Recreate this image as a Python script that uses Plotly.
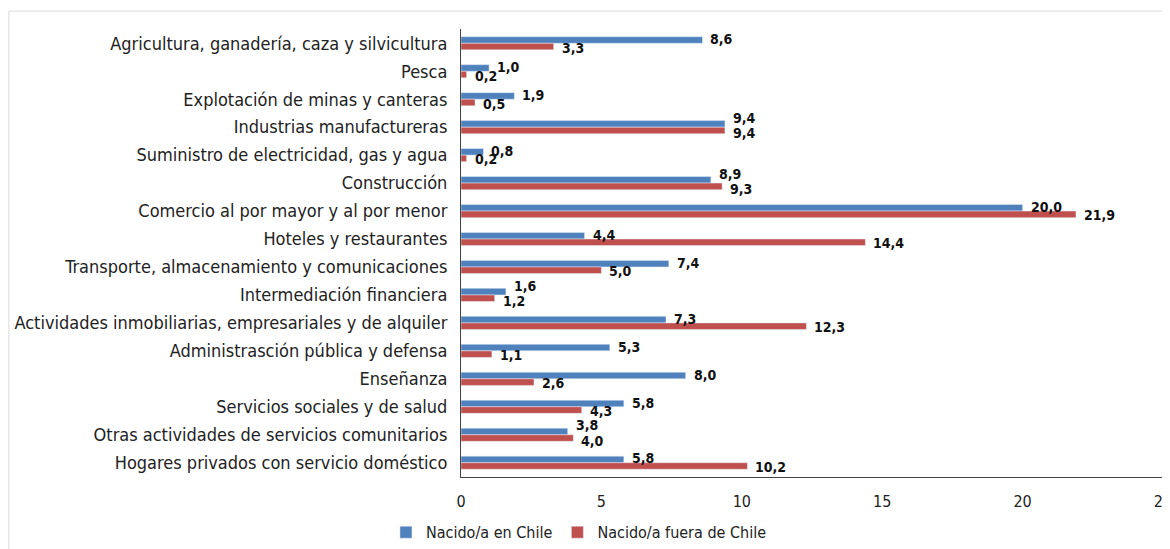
import plotly.graph_objects as go

categories = [
    "Agricultura, ganadería, caza y silvicultura",
    "Pesca",
    "Explotación de minas y canteras",
    "Industrias manufactureras",
    "Suministro de electricidad, gas y agua",
    "Construcción",
    "Comercio al por mayor y al por menor",
    "Hoteles y restaurantes",
    "Transporte, almacenamiento y comunicaciones",
    "Intermediación financiera",
    "Actividades inmobiliarias, empresariales y de alquiler",
    "Administrasción pública y defensa",
    "Enseñanza",
    "Servicios sociales y de salud",
    "Otras actividades de servicios comunitarios",
    "Hogares privados con servicio doméstico",
]
nacido_chile = [8.6, 1.0, 1.9, 9.4, 0.8, 8.9, 20.0, 4.4, 7.4, 1.6, 7.3, 5.3, 8.0, 5.8, 3.8, 5.8]
nacido_fuera = [3.3, 0.2, 0.5, 9.4, 0.2, 9.3, 21.9, 14.4, 5.0, 1.2, 12.3, 1.1, 2.6, 4.3, 4.0, 10.2]
x_ticks = [0, 5, 10, 15, 20, 25]

def fmt(v):
    return f"{v:.1f}".replace(".", ",")

FONT = "Tahoma, 'DejaVu Sans Condensed', 'Noto Sans', sans-serif"
BLUE = "#4F81BD"
RED = "#C0504D"
BARGAP = 0.53
PITCH = 28.0  # pixel pitch of one category (448 px / 16)
half = PITCH * (1 - BARGAP) / 4  # distance of each bar centre from category centre

fig = go.Figure()
fig.add_trace(go.Bar(y=categories, x=nacido_chile, orientation="h",
                     name="Nacido/a en Chile", marker_color=BLUE, hoverinfo="x+y"))
fig.add_trace(go.Bar(y=categories, x=nacido_fuera, orientation="h",
                     name="Nacido/a fuera de Chile", marker_color=RED, hoverinfo="x+y"))

lab_font = dict(family=FONT, size=14, color="#111111", weight="bold")
for cat, b, r in zip(categories, nacido_chile, nacido_fuera):
    close = abs(b - r) < 0.5
    sb = half + (6 if close else 1)
    sr = -half - (3 if close else 1)
    fig.add_annotation(x=b, y=cat, text=fmt(b), showarrow=False, xanchor="left",
                       yanchor="middle", xshift=6, yshift=sb, font=lab_font)
    fig.add_annotation(x=r, y=cat, text=fmt(r), showarrow=False, xanchor="left",
                       yanchor="middle", xshift=6, yshift=sr, font=lab_font)

fig.update_layout(
    width=1170, height=549,
    barmode="group", bargap=BARGAP, bargroupgap=0,
    paper_bgcolor="white", plot_bgcolor="white",
    margin=dict(l=453, r=15, t=21, b=80, autoexpand=False),
    font=dict(family=FONT, size=18, color="#222222"),
    showlegend=True,
    legend=dict(orientation="h", xref="container", yref="container",
                x=0.488, xanchor="center", y=0.045, yanchor="middle",
                font=dict(size=16), itemwidth=30, traceorder="normal"),
)
fig.update_xaxes(range=[0, 25], tickvals=x_ticks, ticktext=[str(t) for t in x_ticks],
                 showgrid=False, zeroline=False, showline=True, linecolor="#444444",
                 linewidth=1, ticks="", tickfont=dict(size=16, color="#222222"),
                 ticklabelstandoff=10)
fig.update_yaxes(autorange="reversed", showgrid=False, showline=True,
                 linecolor="#444444", linewidth=1, ticks="",
                 tickfont=dict(size=18, color="#222222"), ticklabelstandoff=9)

# light chart frame
fig.add_shape(type="rect", xref="paper", yref="paper",
              x0=-0.644, x1=1.03, y0=-0.3, y1=1.04,
              line=dict(color="#D9D9D9", width=1), layer="below")

fig.write_html("out.html")
